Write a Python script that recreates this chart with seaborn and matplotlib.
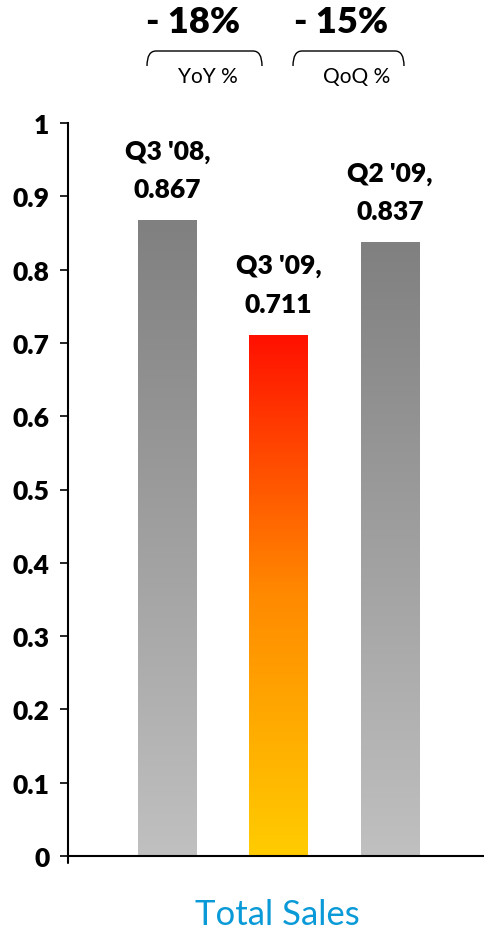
import numpy as np
import pandas as pd
import matplotlib
matplotlib.use("Agg")
import matplotlib.pyplot as plt
import seaborn as sns
from matplotlib.colors import LinearSegmentedColormap
from matplotlib.path import Path
from matplotlib.patches import PathPatch

# ---- data ----
periods = ["Q3 '08", "Q3 '09", "Q2 '09"]
sales = [0.867, 0.711, 0.837]
changes = ["- 18%", "- 15%"]
change_labels = ["YoY %", "QoQ %"]
yticks = [0, 0.1, 0.2, 0.3, 0.4, 0.5, 0.6, 0.7, 0.8, 0.9, 1.0]
ytick_labels = ["0", "0.1", "0.2", "0.3", "0.4", "0.5", "0.6", "0.7", "0.8", "0.9", "1"]
title = "Total Sales"

df = pd.DataFrame({"period": periods, "sales": sales})

sns.set_theme(style="white")
plt.rcParams['font.family'] = ['Lato', 'DejaVu Sans']

W, H = 485, 937
fig = plt.figure(figsize=(W / 100, H / 100), dpi=100)
ax_left, ax_right, ax_top, ax_bot = 68, 485, 124, 857
ax = fig.add_axes([ax_left / W, 1 - ax_bot / H, (ax_right - ax_left) / W, (ax_bot - ax_top) / H])

sns.barplot(data=df, x="period", y="sales", order=periods, width=0.53,
            color="#a0a0a0", ax=ax, linewidth=0)

gray_cmap = LinearSegmentedColormap.from_list("g", ["#c0c0c0", "#808080"])
red_cmap = LinearSegmentedColormap.from_list(
    "r", [(0.0, "#ffcc00"), (0.5, "#ff8a00"), (1.0, "#ff1000")])
cmaps = [gray_cmap, red_cmap, gray_cmap]

grad = np.linspace(0, 1, 256).reshape(-1, 1)
for patch, cm in zip(ax.patches, cmaps):
    x0 = patch.get_x()
    w = patch.get_width()
    h = patch.get_height()
    im = ax.imshow(grad, cmap=cm, extent=(x0, x0 + w, 0, h), origin="lower",
                   aspect="auto", zorder=patch.get_zorder() + 0.1)
    im.set_clip_path(patch)

ax.set_xlim(-0.894, 2.854)
ax.set_ylim(0, 1)

BW = "heavy"
# value labels above bars
for i, (p, v) in enumerate(zip(periods, sales)):
    ax.annotate(f"{v:.3f}", xy=(i, v), xytext=(0, 16.6), textcoords="offset points",
                ha="center", va="baseline", fontsize=19, fontweight=BW, color="black")
    ax.annotate(p + ",", xy=(i, v), xytext=(0, 44.8), textcoords="offset points",
                ha="center", va="baseline", fontsize=19, fontweight=BW, color="black")

# axes styling
for s in ["top", "right"]:
    ax.spines[s].set_visible(False)
for s in ["left", "bottom"]:
    ax.spines[s].set_linewidth(1.5)
    ax.spines[s].set_color("black")
ax.set_xticks([])
ax.set_xlabel("")
ax.set_ylabel("")
ax.set_yticks(yticks)
ax.set_yticklabels(ytick_labels, fontsize=19, fontweight=BW)
ax.tick_params(axis="y", direction="out", length=5.8, width=1.2, pad=7.5, colors="black", left=True)
ax.plot([0, 0], [0, -0.009], transform=ax.transAxes, color="black", lw=1.5, clip_on=False)

# top annotations: change values and brackets
def fx(px):
    return px / W

def fy(py):
    return 1 - py / H

change_x = [193, 341]
label_x = [208, 357]
bracket_x = [(147, 262), (293, 404)]
for cx, lx, (bx0, bx1), c, lab in zip(change_x, label_x, bracket_x, changes, change_labels):
    fig.text(fx(cx), fy(33), c, ha="center", va="baseline", fontsize=26, fontweight=BW, color="black")
    fig.text(fx(lx), fy(83), lab, ha="center", va="baseline", fontsize=15, color="black")
    yb, yt, r = 67, 52, 9
    verts = [(bx0, yb), (bx0, yt), (bx0 + r, yt), (bx1 - r, yt), (bx1, yt), (bx1, yb)]
    verts = [(fx(a), fy(b)) for a, b in verts]
    codes = [Path.MOVETO, Path.CURVE3, Path.CURVE3, Path.LINETO, Path.CURVE3, Path.CURVE3]
    fig.add_artist(PathPatch(Path(verts, codes), transform=fig.transFigure,
                             fill=False, lw=1.0, edgecolor="black"))

fig.text(fx(277), fy(925), title, ha="center", va="baseline", fontsize=25, color="#0a9ad7")

fig.savefig("out.png", dpi=100)
